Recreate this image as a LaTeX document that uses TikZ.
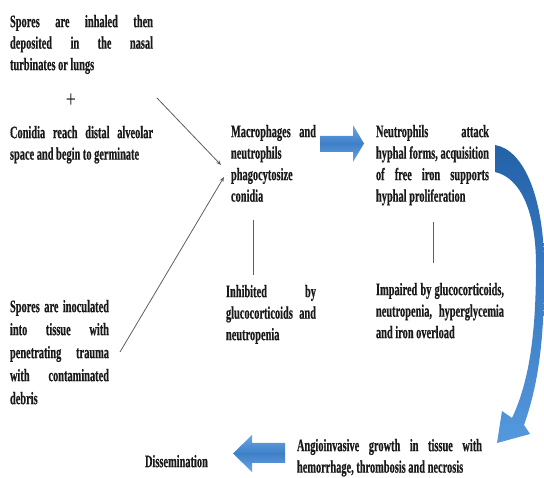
\documentclass[tikz,border=0pt]{standalone}
\usepackage{fontspec}
\newfontfamily\dfont{Liberation Serif Bold}[FakeStretch=0.593,FakeBold=0.4]
\newfontfamily\pfont{Liberation Serif}[FakeStretch=0.75]
\usetikzlibrary{arrows.meta}
\definecolor{arrowblue}{RGB}{62,128,200}
\definecolor{arrowlight}{RGB}{108,166,226}
\definecolor{curvetop}{RGB}{36,98,168}
\definecolor{curvebot}{RGB}{84,152,222}
\definecolor{linegray}{RGB}{95,95,95}
\definecolor{textcol}{RGB}{25,25,25}
\newcommand\jl[2]{\makebox[#1][s]{#2}}
\newcommand\fs{\rule{0pt}{12pt}}
\begin{document}
\begin{tikzpicture}[x=1pt,y=-1pt,
  blk/.style={anchor=north west,inner sep=0pt,outer sep=0pt,align=left,text=textcol,
    font=\dfont\fontsize{17.5}{21.5}\selectfont},
  blkwide/.style={blk,font=\dfont\fontsize{17.5}{23}\selectfont},
  thinarrow/.style={draw=linegray,line width=0.8pt,-{Stealth[length=5pt,width=4pt]}},
  thinline/.style={draw=linegray,line width=0.7pt},
  blockarrow/.style={top color=arrowlight,bottom color=arrowlight,middle color=arrowblue,draw=none},
  curvearrow/.style={top color=curvetop,bottom color=curvebot,draw=none}]
\useasboundingbox[fill=white] (0,0) rectangle (544,478);

% text blocks
\node[blk] (b1) at (10,15) {\fs\jl{143pt}{Spores are inhaled then}\\\jl{143pt}{deposited in the nasal}\\turbinates or lungs};
\node[inner sep=0pt,text=textcol,font=\pfont\fontsize{24}{24}\selectfont] (plus) at (71,101) {+};
\node[blk] (b2) at (10,126) {\fs\jl{143pt}{Conidia reach distal alveolar}\\space and begin to germinate};
\node[blkwide] (b3) at (10,300) {\fs\jl{99pt}{Spores are inoculated}\\\jl{99pt}{into tissue with}\\\jl{99pt}{penetrating trauma}\\\jl{99pt}{with contaminated}\\debris};
\node[blk] (mac) at (231,125) {\fs\jl{85pt}{Macrophages and}\\neutrophils\\phagocytosize\\conidia};
\node[blk] (neu) at (376,125) {\fs\jl{113pt}{Neutrophils attack}\\\jl{113pt}{hyphal forms, acquisition}\\\jl{113pt}{of free iron supports}\\hyphal proliferation};
\node[blk] (inh) at (226,285) {\fs\jl{90pt}{Inhibited by}\\\jl{90pt}{glucocorticoids and}\\neutropenia};
\node[blk] (imp) at (376,283) {\fs\jl{128pt}{Impaired by glucocorticoids,}\\\jl{128pt}{neutropenia, hyperglycemia}\\and iron overload};
\node[blk] (ang) at (297,439) {\fs\jl{185pt}{Angioinvasive growth in tissue with}\\hemorrhage, thrombosis and necrosis};
\node[blk] (dis) at (145,455) {\fs Dissemination};

% thin connectors
\coordinate (s1) at (157,98);
\coordinate (t1) at (221,165);
\coordinate (s2) at (120,352);
\coordinate (t2) at (224,177);
\draw[thinarrow] (s1) -- (t1);
\draw[thinarrow] (s2) -- (t2);
\coordinate (v1a) at (253,220);
\coordinate (v1b) at (253,275);
\coordinate (v2a) at (433,222);
\coordinate (v2b) at (433,263);
\draw[thinline] (v1a) -- (v1b);
\draw[thinline] (v2a) -- (v2b);

% block arrows
\path[blockarrow] (320,136) -- (353,136) -- (353,125) -- (364,143.5) -- (353,162) -- (353,152) -- (320,152) -- cycle;
\path[blockarrow] (285,443) -- (252,443) -- (252,435) -- (233,453.5) -- (252,472) -- (252,463) -- (285,463) -- cycle;

% curved arrow
\path[curvearrow] (495,145) .. controls (525,150) and (543,200) .. (544,260)
  .. controls (545,330) and (540,380) .. (524,425)
  -- (530,434) -- (497,443) -- (502,411) -- (512,418)
  .. controls (530,380) and (536,330) .. (536,265)
  .. controls (536,215) and (522,178) .. (495,172) -- cycle;
\end{tikzpicture}
\end{document}
